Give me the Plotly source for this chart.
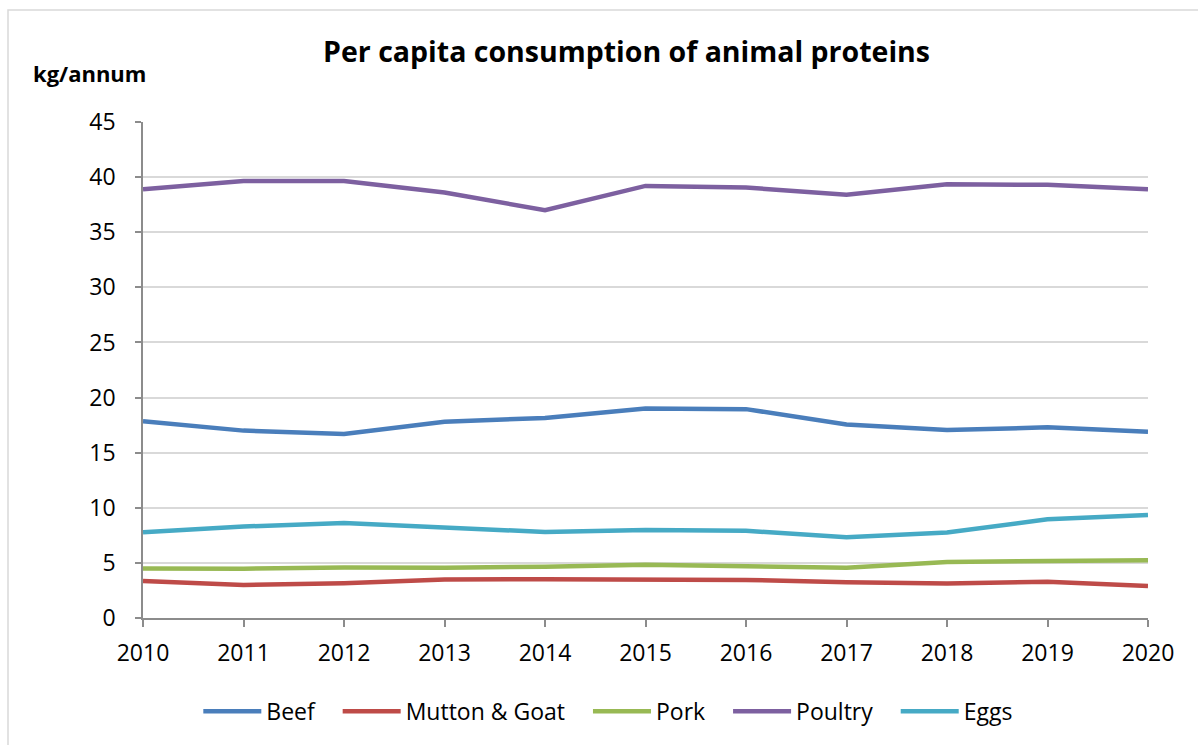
import plotly.graph_objects as go

years = [2010, 2011, 2012, 2013, 2014, 2015, 2016, 2017, 2018, 2019, 2020]

beef = [17.85, 17.0, 16.7, 17.8, 18.15, 19.0, 18.95, 17.55, 17.05, 17.3, 16.9]
mutton_goat = [3.35, 3.0, 3.15, 3.5, 3.52, 3.5, 3.45, 3.25, 3.12, 3.3, 2.9]
pork = [4.5, 4.47, 4.58, 4.56, 4.65, 4.82, 4.7, 4.57, 5.08, 5.15, 5.25]
poultry = [38.9, 39.65, 39.65, 38.6, 37.0, 39.2, 39.05, 38.4, 39.35, 39.3, 38.9]
eggs = [7.77, 8.3, 8.62, 8.23, 7.8, 7.98, 7.92, 7.32, 7.75, 8.95, 9.35]

series = [
    ("Beef", beef, "#4a7ebb"),
    ("Mutton & Goat", mutton_goat, "#be4b48"),
    ("Pork", pork, "#98b954"),
    ("Poultry", poultry, "#7d60a0"),
    ("Eggs", eggs, "#46aac5"),
]

FONT = "Open Sans"
PAD = "\u00a0\u00a0\u00a0"  # extra room between legend entries

fig = go.Figure()
for i, (name, vals, color) in enumerate(series):
    label = name if i == len(series) - 1 else name + PAD
    fig.add_trace(go.Scatter(
        x=years, y=vals, name=label, mode="lines",
        line=dict(color=color, width=4.5),
    ))

fig.update_layout(
    width=1198, height=745,
    paper_bgcolor="white", plot_bgcolor="white",
    margin=dict(l=143, r=50, t=122, b=127),
    font=dict(family=FONT, color="black", size=20),
    title=dict(
        text="<b>Per capita consumption of animal proteins</b>",
        x=0.523, xanchor="center", y=0.93, yanchor="middle",
        font=dict(family=FONT, size=28.5, color="black"),
    ),
    showlegend=True,
    legend=dict(
        orientation="h", x=0.463, xanchor="center", y=-0.188, yanchor="middle",
        font=dict(family=FONT, size=23, color="black"),
        itemwidth=58, tracegroupgap=0,
    ),
    xaxis=dict(
        range=[2010, 2020], tickvals=years, ticktext=[str(y) for y in years],
        showgrid=False, showline=True, linecolor="#8c8c8c", linewidth=1.5,
        ticks="outside", ticklen=7, tickcolor="#8c8c8c", tickwidth=1.5,
        tickfont=dict(family=FONT, size=23), zeroline=False, fixedrange=True,
        ticklabelstandoff=7,
    ),
    yaxis=dict(
        range=[0, 45], dtick=5, tick0=0,
        showgrid=True, gridcolor="#d9d9d9", gridwidth=1.5,
        showline=True, linecolor="#8c8c8c", linewidth=1.5,
        ticks="outside", ticklen=6, tickcolor="#8c8c8c", tickwidth=1.5,
        tickfont=dict(family=FONT, size=23), zeroline=False, fixedrange=True,
        ticklabelstandoff=15,
    ),
    annotations=[dict(
        text="<b>kg/annum</b>", xref="paper", yref="paper",
        x=(89 - 143) / 1005, y=(618 - 73) / 496, xanchor="center", yanchor="middle",
        showarrow=False, font=dict(family=FONT, size=22, color="black"),
    )],
    shapes=[dict(
        type="rect", xref="paper", yref="paper",
        x0=(8 - 143) / 1005, x1=1.2, y0=-0.4, y1=(618 - 10) / 496,
        line=dict(color="#d9d9d9", width=1.5), layer="below",
    )],
)

fig.write_html("out.html")
